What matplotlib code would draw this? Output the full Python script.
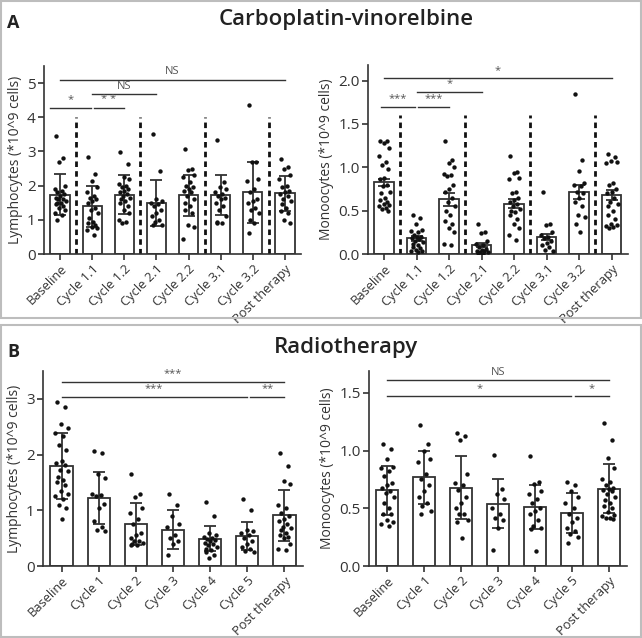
import matplotlib.pyplot as plt
from matplotlib.patches import Rectangle

plt.rcParams['font.family'] = ['Open Sans', 'DejaVu Sans']

carbo_groups = ['Baseline', 'Cycle 1.1', 'Cycle 1.2', 'Cycle 2.1', 'Cycle 2.2',
                'Cycle 3.1', 'Cycle 3.2', 'Post therapy']
radio_groups = ['Baseline', 'Cycle 1', 'Cycle 2', 'Cycle 3', 'Cycle 4',
                'Cycle 5', 'Post therapy']

# carboplatin-vinorelbine, lymphocytes (mean +/- SD)
carbo_lym_mean = [1.74, 1.40, 1.74, 1.50, 1.72, 1.72, 1.81, 1.77]
carbo_lym_err = [0.61, 0.60, 0.56, 0.67, 0.60, 0.58, 0.89, 0.51]
carbo_lym_points = [
    [3.45, 2.8, 2.7, 2.0, 1.9, 1.85, 1.8, 1.75, 1.7, 1.65, 1.6, 1.6, 1.55, 1.5, 1.5, 1.45, 1.4, 1.35, 1.3, 1.2, 1.15, 1.0],
    [2.83, 2.35, 2.15, 1.95, 1.8, 1.7, 1.65, 1.6, 1.55, 1.5, 1.35, 1.3, 1.2, 1.05, 0.95, 0.9, 0.85, 0.8, 0.75, 0.7, 0.57],
    [2.97, 2.62, 2.25, 2.2, 2.05, 2.0, 1.95, 1.9, 1.85, 1.8, 1.75, 1.7, 1.65, 1.6, 1.55, 1.5, 1.4, 1.3, 1.2, 1.0, 0.95, 0.92],
    [3.5, 2.42, 1.6, 1.55, 1.5, 1.45, 1.4, 1.3, 1.2, 1.1, 1.0, 0.95, 0.85, 0.85],
    [3.07, 2.5, 2.45, 2.3, 2.25, 2.1, 2.0, 1.95, 1.9, 1.85, 1.8, 1.7, 1.6, 1.5, 1.4, 1.3, 1.2, 0.85, 0.8, 0.45],
    [3.33, 2.1, 1.95, 1.9, 1.8, 1.75, 1.7, 1.65, 1.6, 1.5, 1.4, 1.3, 1.1, 0.95, 0.9, 0.9],
    [4.35, 2.7, 2.7, 2.2, 2.15, 1.9, 1.8, 1.6, 1.55, 1.5, 1.35, 1.3, 1.2, 1.0, 0.9, 0.6],
    [2.78, 2.55, 2.5, 2.3, 2.2, 2.0, 1.95, 1.85, 1.8, 1.75, 1.7, 1.6, 1.55, 1.45, 1.35, 1.25, 1.2, 1.0, 0.9],
]

# carboplatin-vinorelbine, monocytes (mean +/- SEM)
carbo_mono_mean = [0.825, 0.18, 0.63, 0.10, 0.58, 0.20, 0.72, 0.68]
carbo_mono_err = [0.045, 0.025, 0.075, 0.025, 0.05, 0.035, 0.08, 0.06]
carbo_mono_points = [
    [1.3, 1.3, 1.28, 1.22, 1.13, 1.06, 1.03, 0.98, 0.88, 0.87, 0.8, 0.78, 0.72, 0.7, 0.65, 0.62, 0.6, 0.58, 0.56, 0.55, 0.53, 0.52, 0.5],
    [0.45, 0.42, 0.35, 0.28, 0.26, 0.25, 0.22, 0.2, 0.2, 0.18, 0.17, 0.15, 0.14, 0.12, 0.1, 0.08, 0.07, 0.05, 0.04, 0.03, 0.02],
    [1.3, 1.08, 1.05, 1.0, 0.92, 0.91, 0.9, 0.8, 0.75, 0.72, 0.65, 0.6, 0.55, 0.5, 0.45, 0.38, 0.35, 0.3, 0.25, 0.12, 0.1],
    [0.35, 0.25, 0.24, 0.15, 0.12, 0.1, 0.08, 0.06, 0.05, 0.04, 0.03, 0.02, 0.02, 0.01, 0.0],
    [1.13, 0.95, 0.93, 0.88, 0.86, 0.71, 0.7, 0.65, 0.62, 0.6, 0.58, 0.55, 0.52, 0.5, 0.48, 0.45, 0.4, 0.35, 0.3, 0.22, 0.16],
    [0.72, 0.35, 0.33, 0.25, 0.22, 0.2, 0.18, 0.15, 0.13, 0.1, 0.08, 0.05, 0.03],
    [1.84, 1.09, 0.96, 0.82, 0.8, 0.78, 0.72, 0.7, 0.65, 0.6, 0.55, 0.45, 0.43, 0.35, 0.25],
    [1.15, 1.12, 1.07, 1.06, 1.05, 0.82, 0.8, 0.75, 0.72, 0.7, 0.65, 0.6, 0.58, 0.55, 0.5, 0.45, 0.4, 0.35, 0.33, 0.32, 0.31, 0.3],
]

# radiotherapy, lymphocytes
radio_lym_mean = [1.80, 1.22, 0.75, 0.65, 0.49, 0.54, 0.91]
radio_lym_err = [0.59, 0.47, 0.38, 0.35, 0.22, 0.25, 0.46]
radio_lym_points = [
    [2.95, 2.86, 2.54, 2.48, 2.38, 2.33, 2.18, 2.08, 1.88, 1.85, 1.82, 1.72, 1.7, 1.6, 1.55, 1.5, 1.45, 1.35, 1.3, 1.25, 1.2, 1.1, 1.05, 0.85],
    [2.07, 2.03, 1.65, 1.58, 1.3, 1.28, 1.25, 1.12, 1.05, 0.8, 0.7, 0.65, 0.63],
    [1.65, 1.3, 1.23, 1.05, 0.95, 0.85, 0.75, 0.6, 0.55, 0.5, 0.45, 0.45, 0.42, 0.4, 0.38, 0.38],
    [1.3, 1.1, 0.9, 0.75, 0.7, 0.55, 0.5, 0.45, 0.4, 0.2],
    [1.15, 0.9, 0.6, 0.55, 0.52, 0.5, 0.48, 0.47, 0.45, 0.42, 0.4, 0.38, 0.35, 0.3, 0.28, 0.25, 0.2, 0.15],
    [1.2, 1.0, 0.65, 0.62, 0.6, 0.55, 0.5, 0.45, 0.4, 0.35, 0.3, 0.27, 0.25],
    [2.02, 1.8, 1.52, 1.47, 1.1, 1.05, 0.95, 0.9, 0.85, 0.8, 0.75, 0.7, 0.68, 0.65, 0.6, 0.55, 0.52, 0.5, 0.4, 0.3, 0.28],
]

# radiotherapy, monocytes
radio_mono_mean = [0.655, 0.77, 0.68, 0.54, 0.51, 0.46, 0.67]
radio_mono_err = [0.21, 0.23, 0.27, 0.21, 0.19, 0.17, 0.21]
radio_mono_points = [
    [1.06, 1.01, 0.93, 0.86, 0.85, 0.82, 0.78, 0.72, 0.7, 0.68, 0.65, 0.63, 0.6, 0.55, 0.5, 0.45, 0.45, 0.4, 0.38, 0.36, 0.35],
    [1.22, 1.06, 1.0, 0.93, 0.9, 0.8, 0.75, 0.7, 0.65, 0.6, 0.55, 0.52, 0.48, 0.45],
    [1.15, 1.13, 1.09, 0.8, 0.72, 0.7, 0.66, 0.6, 0.55, 0.5, 0.45, 0.45, 0.4, 0.38, 0.24],
    [0.96, 0.67, 0.62, 0.58, 0.5, 0.45, 0.42, 0.4, 0.33, 0.14],
    [0.95, 0.73, 0.71, 0.65, 0.62, 0.58, 0.55, 0.5, 0.48, 0.45, 0.4, 0.35, 0.33, 0.32, 0.13],
    [0.73, 0.7, 0.65, 0.6, 0.55, 0.5, 0.45, 0.42, 0.38, 0.33, 0.3, 0.28, 0.25, 0.2],
    [1.24, 1.09, 0.94, 0.85, 0.75, 0.73, 0.7, 0.68, 0.67, 0.66, 0.65, 0.62, 0.6, 0.57, 0.55, 0.52, 0.5, 0.47, 0.44, 0.43, 0.42, 0.42, 0.41],
]

# significance brackets: (x start, x end, y, label)
carbo_lym_sig = [(0, 7, 5.1, 'NS'), (1, 3, 4.67, 'NS'), (-0.3, 0.95, 4.28, '*'), (1.05, 2.0, 4.28, '* *')]
carbo_mono_sig = [(0, 7, 2.03, '*'), (1, 3, 1.87, '*'), (-0.1, 0.95, 1.70, '***'), (1.05, 2.0, 1.70, '***')]
radio_lym_sig = [(0, 6, 3.31, '***'), (0, 4.98, 3.04, '***'), (5.08, 6, 3.04, '**')]
radio_mono_sig = [(0, 6, 1.61, 'NS'), (0, 4.98, 1.47, '*'), (5.08, 6, 1.47, '*')]

DARK = '#333333'
jitter = [-0.12, 0.10, -0.02, 0.16, -0.17, 0.05, -0.08, 0.13, 0.0, -0.14, 0.08, -0.05, 0.18, -0.10, 0.03]


def draw_panel(ax, groups, means, errs, points, ylim, yticks, yticklabels, ylabel, sig,
               dividers=None, div_top=None):
    x = list(range(len(groups)))
    ax.bar(x, means, width=0.6, color='white', edgecolor=DARK, linewidth=1.3, zorder=2)
    ax.errorbar(x, means, yerr=errs, fmt='none', ecolor=DARK, elinewidth=1.3,
                capsize=4.5, capthick=1.3, zorder=3)
    for i, pts in enumerate(points):
        xs = [i + jitter[k % len(jitter)] for k in range(len(pts))]
        ax.scatter(xs, pts, s=10, color='#111111', linewidths=0, zorder=4)
    if dividers:
        for d in dividers:
            ax.plot([d, d], [0, div_top], color='#111111', lw=2.0, ls=(0, (2.0, 1.5)), zorder=1)
    for x0, x1, y, lab in sig:
        ax.plot([x0, x1], [y, y], color=DARK, lw=1.0, clip_on=False)
        ax.text((x0 + x1) / 2, y + (ylim[1] * 0.012), lab, ha='center', va='bottom',
                fontsize=8, color='#555555')
    ax.set_xlim(-0.5, len(groups) - 0.5)
    ax.set_ylim(*ylim)
    ax.set_yticks(yticks)
    ax.set_yticklabels(yticklabels, fontsize=11, color=DARK)
    ax.set_xticks(x)
    ax.set_xticklabels(groups, rotation=45, ha='right', rotation_mode='anchor',
                       fontsize=9.3, color=DARK)
    ax.set_ylabel(ylabel, fontsize=10, color=DARK, labelpad=3)
    for s in ['top', 'right']:
        ax.spines[s].set_visible(False)
    for s in ['left', 'bottom']:
        ax.spines[s].set_linewidth(1.2)
        ax.spines[s].set_color(DARK)
    ax.tick_params(width=1.2, length=4, color=DARK, pad=2)


fig = plt.figure(figsize=(6.42, 6.38), dpi=100)
W, H = 642, 638


def add_axes(left, top, right, bottom):
    return fig.add_axes([left / W, 1 - bottom / H, (right - left) / W, (bottom - top) / H])


# panel frames
for y0, y1 in [(1, 318), (325, 637)]:
    fig.patches.append(Rectangle((1 / W, 1 - y1 / H), 640 / W, (y1 - y0) / H,
                                 transform=fig.transFigure, fill=False,
                                 edgecolor='#bdbdbd', lw=1.5))

fig.text(346 / W, 1 - 20 / H, 'Carboplatin-vinorelbine', ha='center', va='center',
         fontsize=16, fontweight='semibold', color='#222222')
fig.text(346 / W, 1 - 348 / H, 'Radiotherapy', ha='center', va='center',
         fontsize=16, fontweight='semibold', color='#222222')
fig.text(7 / W, 1 - 23 / H, 'A', ha='left', va='center', fontsize=13, fontweight='bold', color='#222222')
fig.text(7 / W, 1 - 352 / H, 'B', ha='left', va='center', fontsize=13, fontweight='bold', color='#222222')

ax1 = add_axes(44, 66, 301, 254)
draw_panel(ax1, carbo_groups, carbo_lym_mean, carbo_lym_err, carbo_lym_points,
           (0, 5.5), [0, 1, 2, 3, 4, 5], ['0', '1', '2', '3', '4', '5'],
           'Lymphocytes (*10^9 cells)', carbo_lym_sig, dividers=[0.5, 2.5, 4.5, 6.5], div_top=4.0)

ax2 = add_axes(368, 65, 628, 254)
draw_panel(ax2, carbo_groups, carbo_mono_mean, carbo_mono_err, carbo_mono_points,
           (0, 2.18), [0, 0.5, 1.0, 1.5, 2.0], ['0.0', '0.5', '1.0', '1.5', '2.0'],
           'Monoocytes (*10^9 cells)', carbo_mono_sig, dividers=[0.5, 2.5, 4.5, 6.5], div_top=1.6)

ax3 = add_axes(43, 371, 303, 566)
draw_panel(ax3, radio_groups, radio_lym_mean, radio_lym_err, radio_lym_points,
           (0, 3.5), [0, 1, 2, 3], ['0', '1', '2', '3'],
           'Lymphocytes (*10^9 cells)', radio_lym_sig)

ax4 = add_axes(369, 371, 627, 566)
draw_panel(ax4, radio_groups, radio_mono_mean, radio_mono_err, radio_mono_points,
           (0, 1.69), [0, 0.5, 1.0, 1.5], ['0.0', '0.5', '1.0', '1.5'],
           'Monoocytes (*10^9 cells)', radio_mono_sig)

fig.savefig('out.png', dpi=100)
